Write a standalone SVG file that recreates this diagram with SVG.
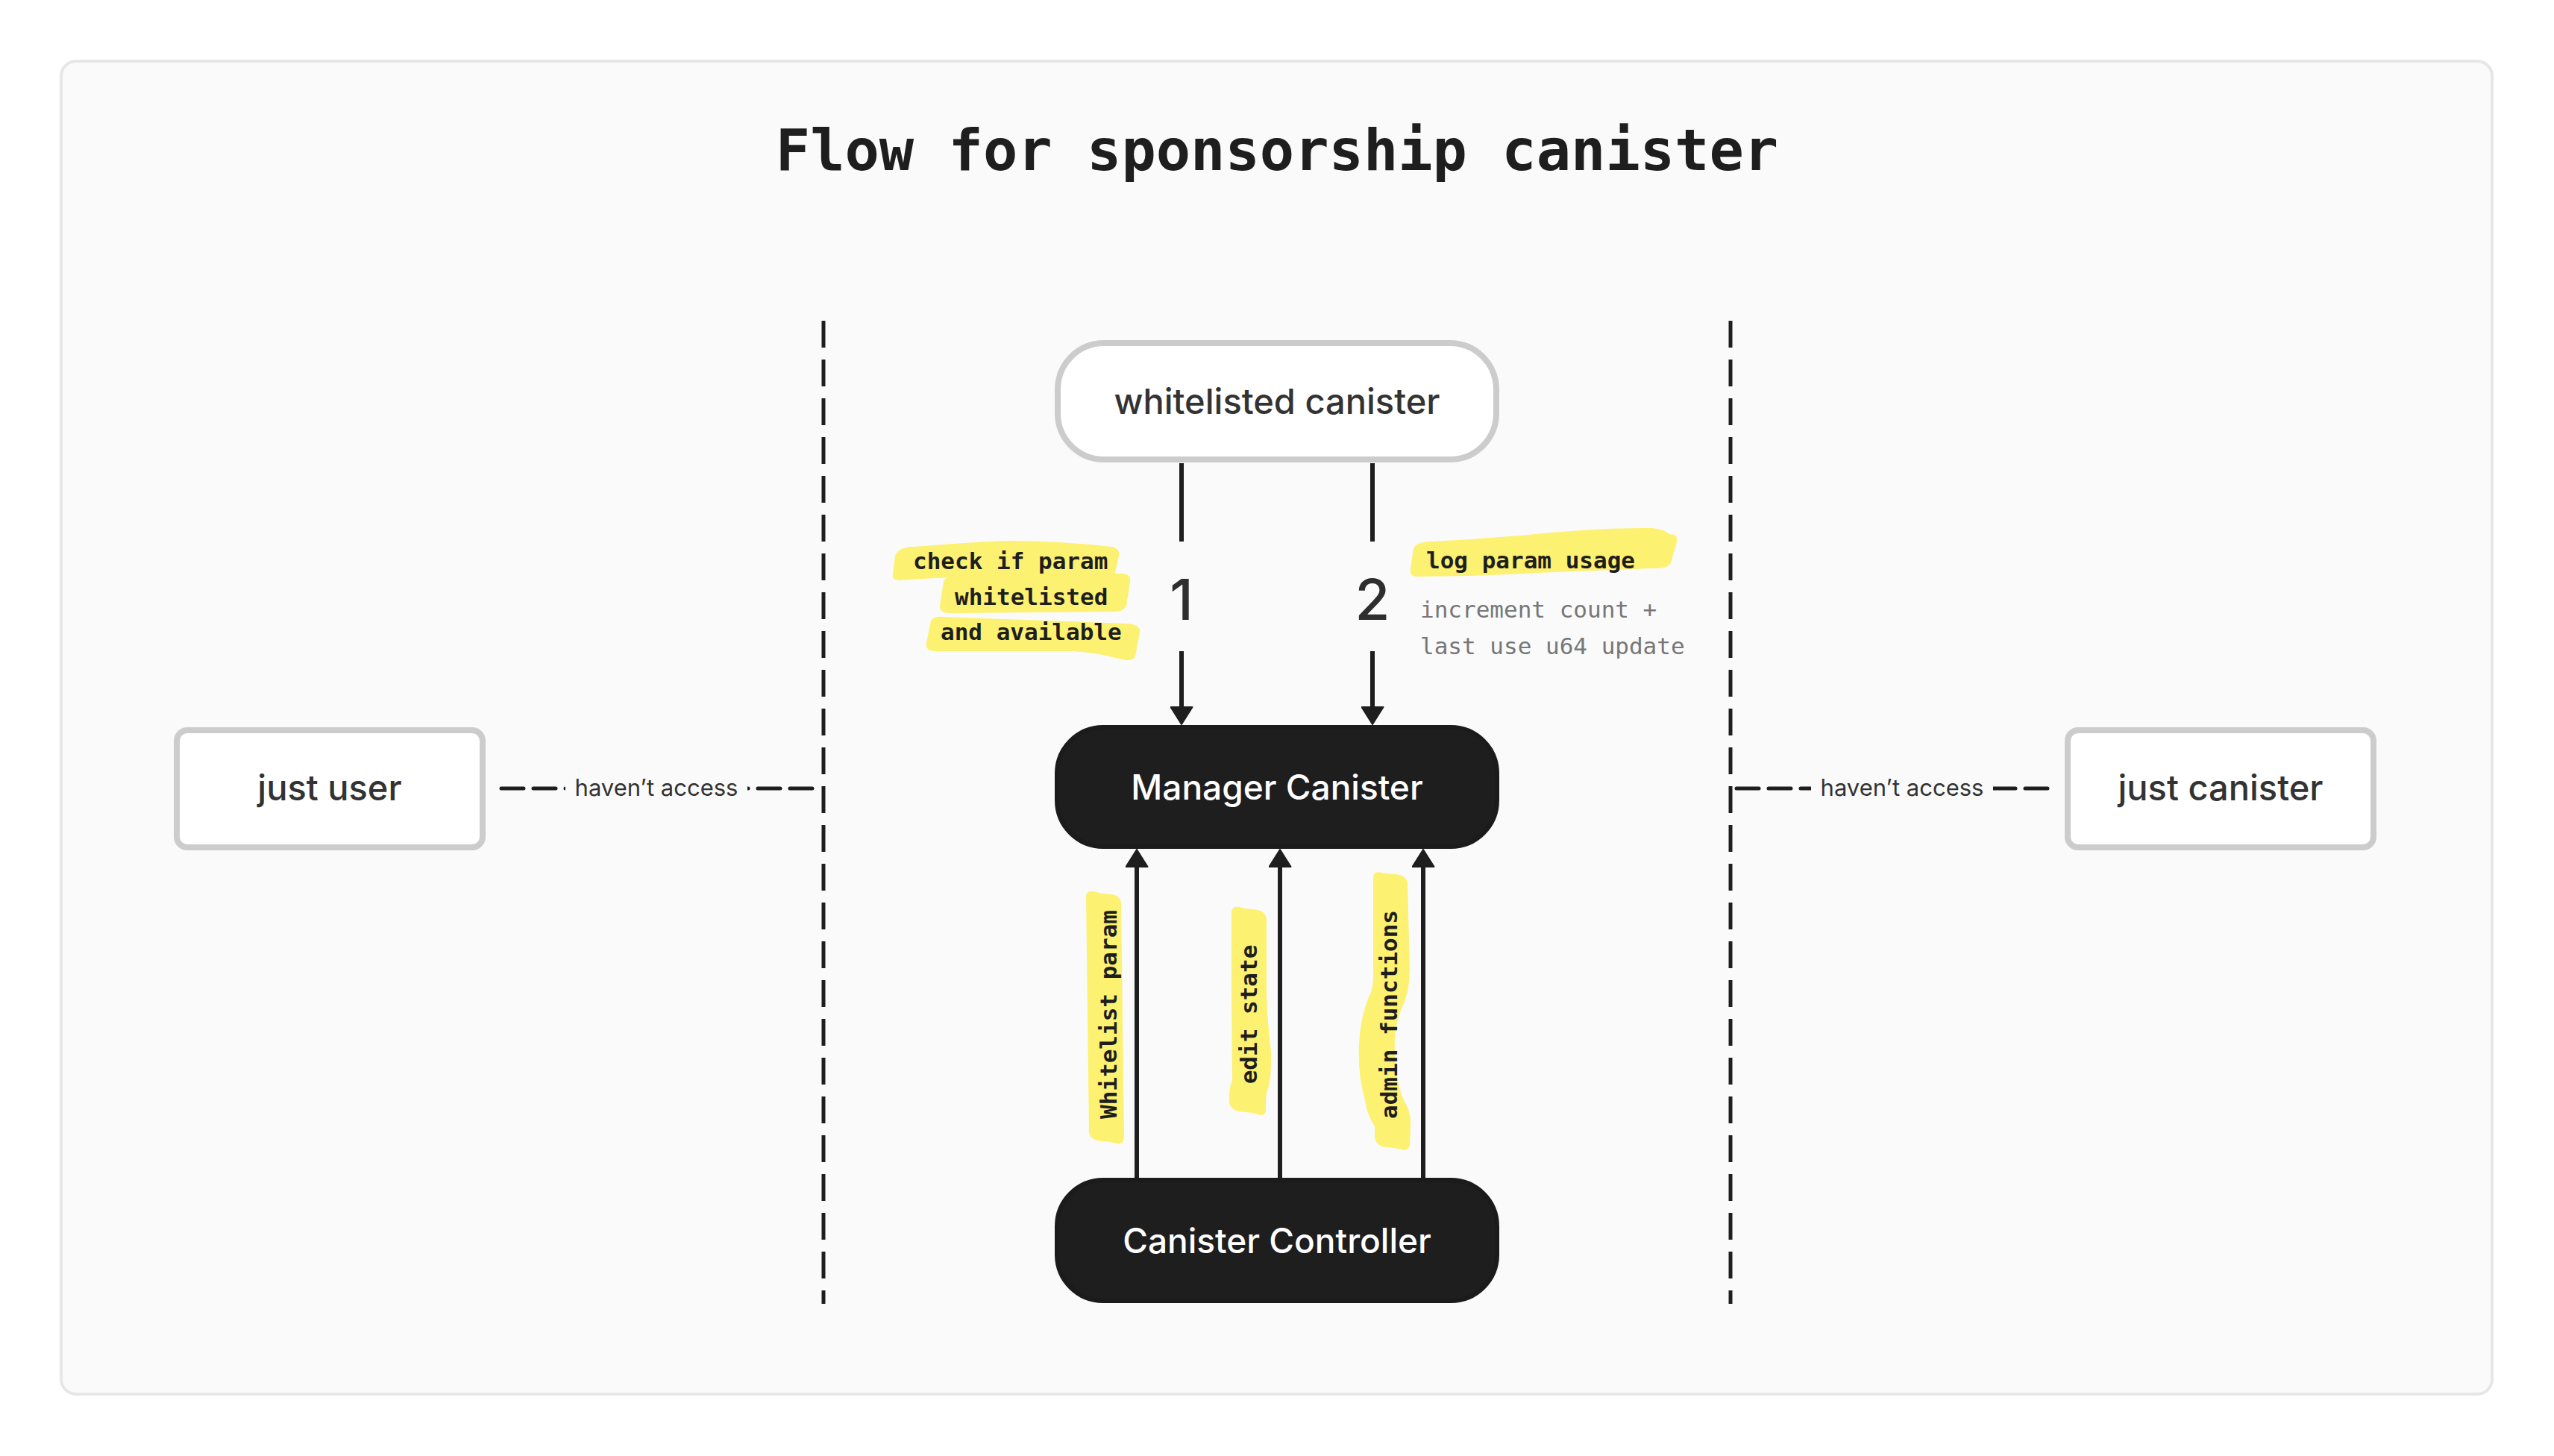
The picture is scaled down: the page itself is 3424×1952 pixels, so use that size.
<svg xmlns="http://www.w3.org/2000/svg" width="3424" height="1952" viewBox="0 0 3424 1952">
<style>
.sans{font-family:Inter,"Liberation Sans",Arial,sans-serif}
.mono{font-family:"DejaVu Sans Mono","Liberation Mono",monospace}
.node-light{fill:#ffffff;stroke:#cccccc;stroke-width:8}
.node-dark{fill:#1e1e1e;stroke:#1b1b1b;stroke-width:6}
.lbl-light{font-size:47px;font-weight:500;fill:#333333;text-anchor:middle}
.lbl-dark{font-size:46px;font-weight:500;fill:#ffffff;text-anchor:middle}
.conn{stroke:#1e1e1e;stroke-width:6;fill:none}
.divider{stroke:#1e1e1e;stroke-width:5;stroke-dasharray:36 16;fill:none}
.noaccess{stroke:#1e1e1e;stroke-width:5;stroke-dasharray:30 13;stroke-linecap:round;fill:none}
.hl{fill:#fcf171}
.note{font-size:31px;font-weight:bold;fill:#1e1e1e}
.note-gray{font-size:31px;fill:#777777}
.num{font-size:76px;font-weight:500;fill:#2e2e2e;text-anchor:middle}
.access{font-size:31px;fill:#333333;text-anchor:middle}
</style>
<defs>
<marker id="arrow" viewBox="0 0 25 31" refX="0" refY="15.5" markerWidth="25" markerHeight="31" markerUnits="userSpaceOnUse" orient="auto">
<path d="M1,1 L24,15.5 L1,30 Z" fill="#1e1e1e" stroke="#1e1e1e" stroke-width="2" stroke-linejoin="round"/>
</marker>
</defs>
<rect width="3424" height="1952" fill="#ffffff"/>
<rect x="82" y="82" width="3259" height="1787" rx="20" fill="#fafafa" stroke="#e6e6e6" stroke-width="4"/>
<text class="mono" x="1712" y="228" font-size="77" font-weight="bold" fill="#1e1e1e" text-anchor="middle">Flow for sponsorship canister</text>

<g id="dividers">
<line class="divider" x1="1104" y1="430" x2="1104" y2="1748"/>
<line class="divider" x1="2320" y1="430" x2="2320" y2="1748"/>
</g>

<g id="connectors">
<line class="conn" x1="1584" y1="621" x2="1584" y2="726"/>
<line class="conn" x1="1584" y1="873" x2="1584" y2="947" marker-end="url(#arrow)"/>
<line class="conn" x1="1840" y1="621" x2="1840" y2="726"/>
<line class="conn" x1="1840" y1="873" x2="1840" y2="947" marker-end="url(#arrow)"/>
<line class="conn" x1="1524" y1="1580" x2="1524" y2="1163" marker-end="url(#arrow)"/>
<line class="conn" x1="1716" y1="1580" x2="1716" y2="1163" marker-end="url(#arrow)"/>
<line class="conn" x1="1908" y1="1580" x2="1908" y2="1163" marker-end="url(#arrow)"/>
<line class="noaccess" x1="672" y1="1057" x2="1098" y2="1057"/>
<line class="noaccess" x1="2328" y1="1057" x2="2756" y2="1057"/>
</g>

<g id="connector-labels">
<text class="sans num" x="1584" y="831">1</text>
<text class="sans num" x="1840" y="831">2</text>
<rect x="758" y="1030" width="244" height="54" fill="#fafafa"/>
<text class="sans access" x="880" y="1067">haven’t access</text>
<rect x="2428" y="1030" width="244" height="54" fill="#fafafa"/>
<text class="sans access" x="2550" y="1067">haven’t access</text>

<path class="hl" d="M1200,745 Q1205,733 1225,733 Q1300,727 1350,725 Q1420,725 1490,733 Q1502,735 1500,745 L1495,768 Q1490,777 1470,776 Q1400,772 1300,773 Q1230,776 1205,778 Q1196,778 1197,770 Z"/>
<path class="hl" d="M1265,780 Q1268,772 1280,772 Q1400,768 1505,769 Q1517,770 1515,780 L1510,812 Q1506,820 1495,820 L1275,822 Q1259,822 1260,812 Z"/>
<path class="hl" d="M1248,832 Q1252,826 1265,827 L1510,836 Q1530,837 1528,848 L1522,880 Q1518,888 1500,883 Q1470,875 1440,873 L1255,873 Q1240,873 1242,862 Z"/>
<text class="mono note" x="1224" y="763">check if param</text>
<text class="mono note" x="1280" y="811">whitelisted</text>
<text class="mono note" x="1261" y="858">and available</text>

<path class="hl" d="M1895,735 Q1900,726 1920,726 Q2000,722 2080,714 Q2160,707 2215,708 Q2232,710 2238,716 L2245,717 Q2250,720 2247,730 L2240,755 Q2235,763 2215,762 Q2140,765 2060,768 Q1980,773 1900,773 Q1889,773 1891,762 Z"/>
<text class="mono note" x="1912" y="762">log param usage</text>
<text class="mono note-gray" x="1904" y="828">increment count +</text>
<text class="mono note-gray" x="1904" y="877">last use u64 update</text>

<path class="hl" d="M1456,1200 Q1458,1193 1470,1196 Q1480,1199 1492,1199 Q1502,1202 1503,1210 L1507,1525 Q1506,1535 1497,1533 Q1487,1530 1477,1530 Q1462,1529 1460,1518 Z"/>
<text class="mono note" transform="translate(1497,1360) rotate(-90)" text-anchor="middle">Whitelist param</text>
<path class="hl" d="M1651,1222 Q1653,1214 1662,1216 Q1670,1219 1680,1219 Q1696,1220 1698,1232 L1698,1330 Q1699,1370 1704,1410 Q1705,1440 1700,1460 Q1697,1466 1697,1475 L1697,1490 Q1694,1497 1686,1494 Q1678,1491 1668,1491 Q1650,1490 1648,1478 Q1647,1460 1652,1448 L1651,1330 Z"/>
<text class="mono note" transform="translate(1685,1360) rotate(-90)" text-anchor="middle">edit state</text>
<path class="hl" d="M1841,1176 Q1842,1167 1852,1170 Q1862,1172 1872,1172 Q1887,1175 1887,1185 L1890,1300 Q1890,1330 1878,1355 Q1868,1380 1870,1410 Q1871,1450 1882,1475 Q1892,1490 1891,1510 L1890,1535 Q1888,1544 1878,1541 Q1868,1538 1858,1538 Q1843,1536 1843,1522 L1843,1510 Q1833,1495 1830,1475 Q1820,1440 1822,1400 Q1824,1360 1838,1330 Q1842,1318 1841,1300 Z"/>
<text class="mono note" transform="translate(1873,1360) rotate(-90)" text-anchor="middle">admin functions</text>
</g>

<g id="node-whitelisted">
<rect class="node-light" x="1418" y="460" width="588" height="156" rx="62"/>
<text class="sans lbl-light" x="1712" y="555">whitelisted canister</text>
</g>
<g id="node-manager">
<rect class="node-dark" x="1417" y="975" width="590" height="160" rx="62"/>
<text class="sans lbl-dark" x="1712" y="1072">Manager Canister</text>
</g>
<g id="node-controller">
<rect class="node-dark" x="1417" y="1582" width="590" height="162" rx="62"/>
<text class="sans lbl-dark" x="1712" y="1680">Canister Controller</text>
</g>
<g id="node-just-user">
<rect class="node-light" x="237" y="979" width="410" height="157" rx="14"/>
<text class="sans lbl-light" x="442" y="1073">just user</text>
</g>
<g id="node-just-canister">
<rect class="node-light" x="2772" y="979" width="410" height="157" rx="14"/>
<text class="sans lbl-light" x="2977" y="1073">just canister</text>
</g>
</svg>
